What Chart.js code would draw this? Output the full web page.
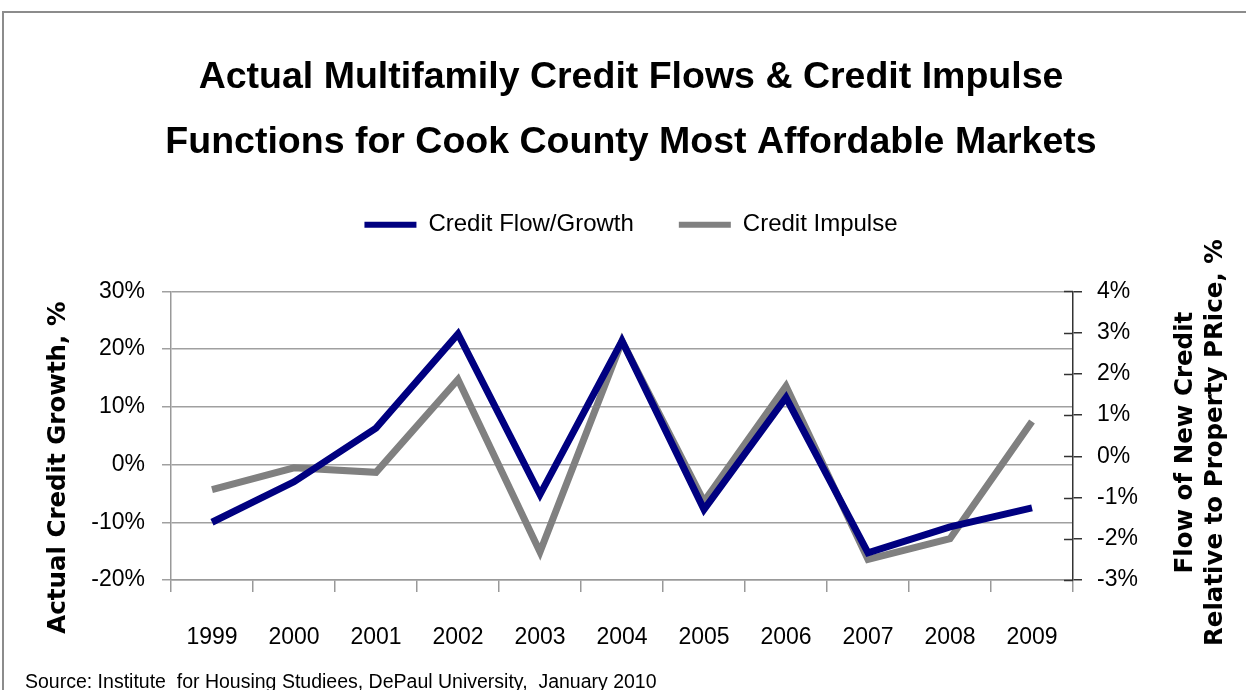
<!DOCTYPE html>
<html><head><meta charset="utf-8">
<script src="https://cdn.jsdelivr.net/npm/chart.js@4"></script>
<style>
html,body{margin:0;padding:0;background:#fff;overflow:hidden}
#wrap{position:relative;width:1246px;height:690px;background:#fff}
#frame{position:absolute;left:2px;top:11px;width:1270px;height:720px;border:2px solid #8c8c8c;box-sizing:border-box;pointer-events:none}
#c{position:absolute;left:0;top:0}
#src{position:absolute;left:25px;top:670px;font:19.5px "Liberation Sans",sans-serif;color:#000;white-space:pre}
</style></head>
<body>
<div id="wrap">
<canvas id="c" width="1246" height="690"></canvas>
<div id="frame"></div>
<div id="src">Source: Institute  for Housing Studiees, DePaul University,  January 2010</div>
</div>
<script>
const years = ['1999','2000','2001','2002','2003','2004','2005','2006','2007','2008','2009'];
const creditFlow = [-10, -3, 6.3, 22.6, -5.2, 21.4, -7.8, 11.6, -15.3, -10.8, -7.5];
const creditImpulse = [-0.81, -0.28, -0.39, 1.86, -2.32, 2.79, -1.1, 1.7, -2.5, -2.0, 0.84];
const titleLines = ['Actual Multifamily Credit Flows & Credit Impulse', 'Functions for Cook County Most Affordable Markets'];
const leftTitle = 'Actual Credit Growth, %';
const rightTitleLines = ['Flow of New Credit', 'Relative to Property PRice, %'];

const FONT = '"Liberation Sans",sans-serif';
const AXFONT = '"DejaVu Sans",sans-serif';

// empty layout box that keeps a gap between the legend and the plot
const spacerPlugin = {
  id: 'spacer',
  beforeInit(chart) {
    const box = {
      position: 'top', weight: 100, fullSize: true, options: {},
      top: 0, left: 0, right: 0, bottom: 0, width: 0, height: 0,
      update(maxWidth) { this.width = maxWidth; this.height = 44.5; },
      getPadding() { return { top: 0, left: 0, right: 0, bottom: 0 }; },
      isHorizontal() { return true; },
      draw() {}
    };
    Chart.layouts.addBox(chart, box);
  }
};

function drawVertical(ctx, text, x, y) {
  ctx.save();
  ctx.translate(x, y);
  ctx.rotate(-Math.PI / 2);
  ctx.fillText(text, 0, 0);
  ctx.restore();
}

const axisExtrasPlugin = {
  id: 'axisExtras',
  afterDraw(chart) {
    const ctx = chart.ctx;
    const s = chart.scales.y1;
    const l = chart.scales.y;
    const area = chart.chartArea;
    ctx.save();
    // inner half of the crossing tick marks on the right axis
    ctx.strokeStyle = '#333';
    ctx.lineWidth = 1.5;
    s.ticks.forEach(t => {
      const y = Math.round(s.getPixelForValue(t.value)) + 0.5;
      ctx.beginPath();
      ctx.moveTo(s.left - 9, y);
      ctx.lineTo(s.left, y);
      ctx.stroke();
    });
    // axis titles, reading bottom to top
    ctx.font = 'bold 24.5px ' + AXFONT;
    ctx.fillStyle = '#000';
    ctx.textAlign = 'center';
    ctx.textBaseline = 'middle';
    const cy = (area.top + area.bottom) / 2;
    drawVertical(ctx, leftTitle, l.left + 43, cy + 32);
    const xs = [s.left + 113, s.left + 143];
    rightTitleLines.forEach((t, i) => drawVertical(ctx, t, xs[i], cy + 7));
    ctx.restore();
  }
};

new Chart(document.getElementById('c'), {
  type: 'line',
  data: {
    labels: years,
    datasets: [
      { label: 'Credit Flow/Growth', data: creditFlow, yAxisID: 'y', borderColor: '#000080', backgroundColor: '#000080', borderWidth: 7, pointRadius: 0, tension: 0 },
      { label: 'Credit Impulse', data: creditImpulse, yAxisID: 'y1', borderColor: '#808080', backgroundColor: '#808080', borderWidth: 7, pointRadius: 0, tension: 0 }
    ]
  },
  options: {
    responsive: false,
    animation: false,
    devicePixelRatio: 1,
    layout: { padding: { left: 16, right: 0, top: 0, bottom: 0 } },
    plugins: {
      title: {
        display: true,
        text: titleLines,
        color: '#000',
        font: { family: FONT, size: 37.5, weight: 'bold', lineHeight: 1.73 },
        padding: { top: 45, bottom: -7 }
      },
      legend: {
        display: true,
        labels: {
          color: '#000',
          font: { family: FONT, size: 24 },
          boxWidth: 52,
          boxHeight: 6,
          padding: 45,
          generateLabels(chart) {
            const items = Chart.defaults.plugins.legend.labels.generateLabels(chart);
            items.forEach(it => { it.lineWidth = 0; });
            return items;
          }
        }
      },
      tooltip: { enabled: false }
    },
    scales: {
      x: {
        offset: true,
        grid: { offset: true, drawOnChartArea: false, tickLength: 12, color: '#999', lineWidth: 1.5 },
        border: { color: '#999', width: 1.5 },
        ticks: { color: '#000', font: { family: FONT, size: 23 }, padding: 32, maxRotation: 0 },
        afterFit(s) { s.height = 110; }
      },
      y: {
        position: 'left',
        min: -20, max: 30,
        ticks: { stepSize: 10, color: '#000', font: { family: FONT, size: 23 }, padding: 17, callback: v => v + '%' },
        grid: { color: '#a0a0a0', lineWidth: 1.5, tickLength: 9 },
        border: { color: '#999', width: 1.5 },
        afterFit(s) { s.width = 155; }
      },
      y1: {
        position: 'right',
        min: -3, max: 4,
        ticks: { stepSize: 1, color: '#000', font: { family: FONT, size: 23 }, padding: 15, callback: v => v + '%' },
        grid: { drawOnChartArea: false, color: '#333', lineWidth: 1.5, tickLength: 9 },
        border: { color: '#333', width: 1.5 },
        afterFit(s) { s.width = 173; }
      }
    }
  },
  plugins: [spacerPlugin, axisExtrasPlugin]
});
</script>
</body></html>
